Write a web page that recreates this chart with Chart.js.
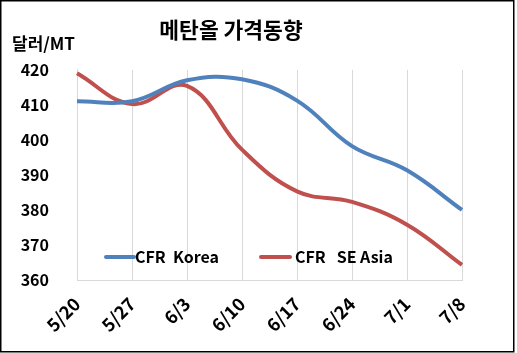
<!DOCTYPE html>
<html>
<head>
<meta charset="utf-8">
<script src="https://cdn.jsdelivr.net/npm/chart.js@4"></script>
<style>
  body { margin: 0; background: #fff; }
  #wrap { width: 517px; height: 353px; }
</style>
</head>
<body>
<div id="wrap"><canvas id="chart" width="517" height="353"></canvas></div>
<script>
// data
const dates = ['5/20', '5/27', '6/3', '6/10', '6/17', '6/24', '7/1', '7/8'];
const korea = [411, 411, 417, 417.3, 411.2, 398.2, 391.3, 380];
const seAsia = [419, 410.2, 415.4, 397.2, 385.3, 382.3, 375.8, 364.3];
const yTicks = [360, 370, 380, 390, 400, 410, 420];

const FONT = "'Noto Sans CJK KR', 'Noto Sans', sans-serif";

// frame, y-axis title and the in-plot legend
const decor = {
    id: 'decor',
    beforeDraw(chart) {
        const c = chart.ctx;
        c.save();
        c.fillStyle = '#fff';
        c.fillRect(0, 0, chart.width, chart.height);
        c.restore();
    },
    afterDraw(chart) {
        const c = chart.ctx;
        c.save();
        c.strokeStyle = '#000';
        c.lineWidth = 1.5;
        c.strokeRect(0.75, 0.75, 513, 351);

        c.fillStyle = '#000';
        c.font = 'bold 17px ' + FONT;
        c.textBaseline = 'middle';
        c.textAlign = 'left';
        c.fillText('달러/MT', 12, 44);

        // legend
        const items = [
            { x: 106, len: 28, textX: 135 },
            { x: 261, len: 29, textX: 295 }
        ];
        chart.data.datasets.forEach((ds, i) => {
            const it = items[i];
            c.strokeStyle = ds.borderColor;
            c.lineWidth = 4;
            c.lineCap = 'round';
            c.beginPath();
            c.moveTo(it.x, 257);
            c.lineTo(it.x + it.len, 257);
            c.stroke();
            c.fillStyle = '#000';
            c.font = 'bold 16px ' + FONT;
            c.fillText(ds.label, it.textX, 257);
        });
        c.restore();
    }
};

const ctx = document.getElementById('chart').getContext('2d');
const chart = new Chart(ctx, {
    type: 'line',
    data: {
        labels: dates,
        datasets: [{
            label: 'CFR  Korea',
            data: korea,
            borderColor: '#4F81BD',
            borderWidth: 4,
            tension: 0.4,
            pointRadius: 0,
            fill: false
        }, {
            label: 'CFR   SE Asia',
            data: seAsia,
            borderColor: '#C0504D',
            borderWidth: 4,
            tension: 0.4,
            pointRadius: 0,
            fill: false
        }]
    },
    options: {
        responsive: false,
        animation: false,
        layout: { padding: { left: 0, right: 55, top: 0, bottom: 0 } },
        plugins: {
            legend: { display: false },
            tooltip: { enabled: false },
            title: {
                display: true,
                text: '메탄올 가격동향',
                color: '#000',
                font: { family: FONT, size: 21.5, weight: 'bold' },
                padding: { top: 17, bottom: 27 }
            }
        },
        scales: {
            x: {
                offset: false,
                grid: { color: '#D9D9D9', drawTicks: false, lineWidth: 1 },
                border: { color: '#D9D9D9' },
                ticks: {
                    color: '#000',
                    font: { family: FONT, size: 18, weight: 'bold' },
                    minRotation: 45,
                    maxRotation: 45,
                    padding: 13
                },
                afterFit(scale) { scale.height = 73; }
            },
            y: {
                min: 360,
                max: 420,
                afterBuildTicks(scale) { scale.ticks = yTicks.map(v => ({ value: v })); },
                grid: { display: false, drawTicks: false },
                border: { display: true, color: '#D9D9D9' },
                ticks: {
                    color: '#000',
                    font: { family: FONT, size: 16, weight: 'bold' },
                    padding: 28
                },
                afterFit(scale) { scale.width = 77; }
            }
        }
    },
    plugins: [decor]
});
</script>
</body>
</html>
